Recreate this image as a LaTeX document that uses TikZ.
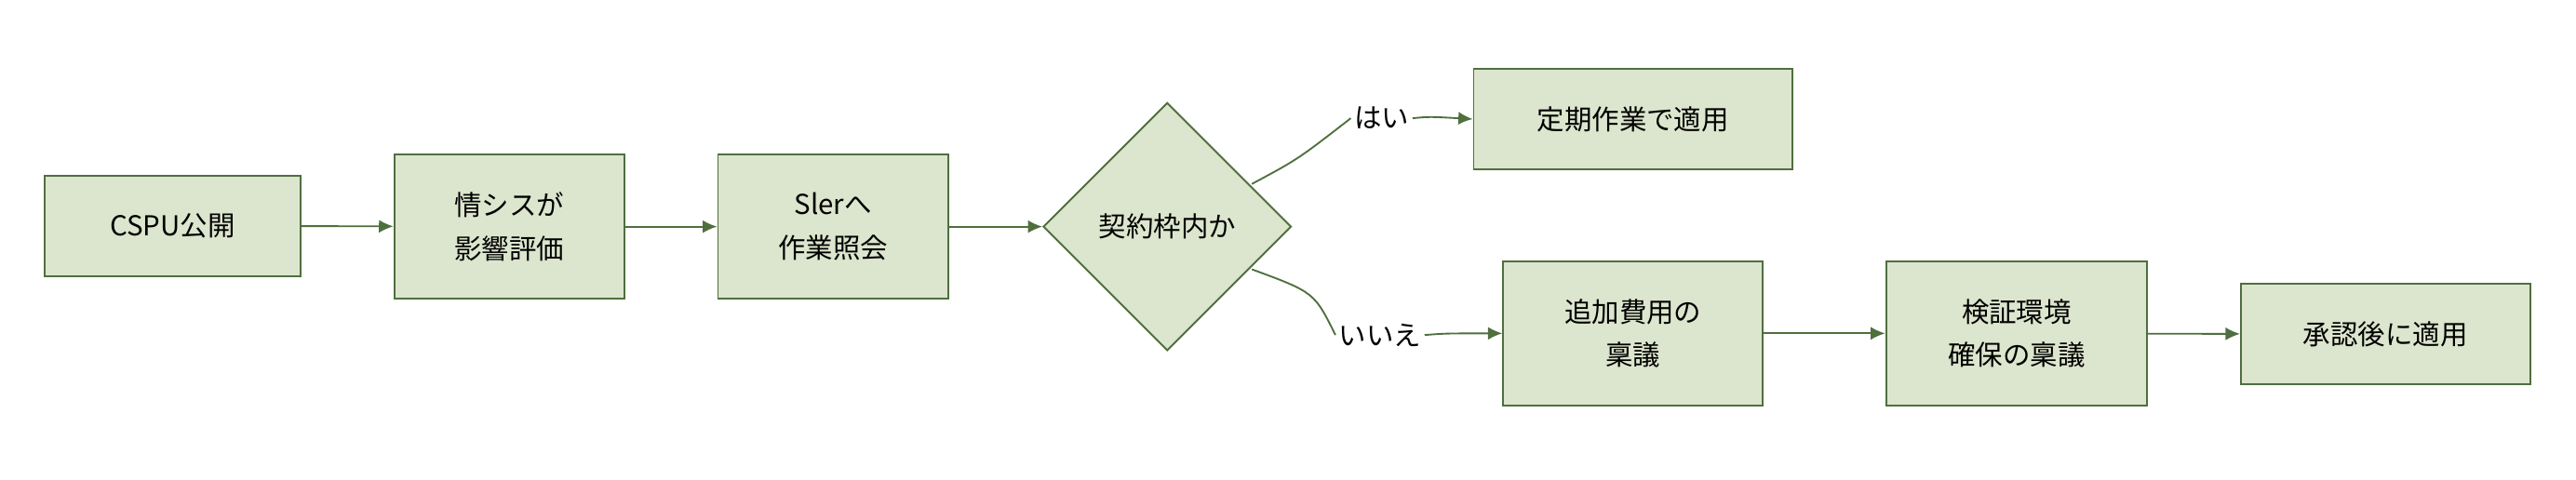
\documentclass[tikz,border=0pt]{standalone}
\usepackage{fontspec}
\setmainfont{Noto Sans CJK JP}
\usetikzlibrary{shapes.geometric,arrows.meta}
\definecolor{fillg}{HTML}{DCE5CD}
\definecolor{lineg}{HTML}{4F6F3F}
\begin{document}
\begin{tikzpicture}[x=0.02cm,y=-0.02cm,
 box/.style={draw=lineg,fill=fillg,line width=0.6pt,align=center,inner sep=0pt,font=\fontsize{9.5}{15}\selectfont},
 arr/.style={draw=lineg,line width=0.6pt,-{Latex[length=5pt,width=4.5pt]}},
 lbl/.style={font=\fontsize{9.5}{12}\selectfont,inner sep=1pt,fill=white}]
\useasboundingbox (0,0) rectangle (1568,292);
\node[box,minimum width=156*0.02cm,minimum height=61*0.02cm] (a) at (105,137.5) {CSPU公開};
\node[box,minimum width=140*0.02cm,minimum height=88*0.02cm] (b) at (310,138) {情シスが\\影響評価};
\node[box,minimum width=140*0.02cm,minimum height=88*0.02cm] (c) at (507,138) {Slerへ\\作業照会};
\node[box,diamond,minimum width=151*0.02cm,minimum height=151*0.02cm] (d) at (710.5,138) {契約枠内か};
\node[box,minimum width=194*0.02cm,minimum height=61*0.02cm] (e) at (994,72.5) {定期作業で適用};
\node[box,minimum width=158*0.02cm,minimum height=88*0.02cm] (f) at (994,203) {追加費用の\\稟議};
\node[box,minimum width=159*0.02cm,minimum height=88*0.02cm] (g) at (1227.5,203) {検証環境\\確保の稟議};
\node[box,minimum width=176*0.02cm,minimum height=61*0.02cm] (h) at (1452,203.5) {承認後に適用};
\node[lbl] (yes) at (841,72) {はい};
\node[lbl] (no) at (840,204) {いいえ};
\draw[arr] (a) -- (b);
\draw[arr] (b) -- (c);
\draw[arr] (c) -- (d);
\draw[draw=lineg,line width=0.6pt] (d.north east) ++(-13,0) coordinate (d1);
\draw[draw=lineg,line width=0.6pt] (762,112) .. controls (790,97) .. (yes.west);
\draw[arr] (yes.east) .. controls (870,71) .. (e.west);
\draw[draw=lineg,line width=0.6pt] (762,164) .. controls (800,178) .. (no.west);
\draw[arr] (no.east) .. controls (880,203) .. (f.west);
\draw[arr] (f) -- (g);
\draw[arr] (g) -- (h);
\end{tikzpicture}
\end{document}
